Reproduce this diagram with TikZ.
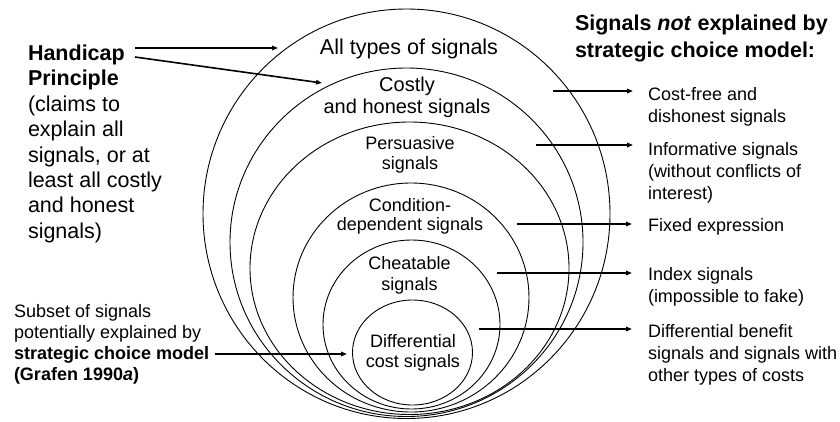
\documentclass[tikz,border=0pt]{standalone}
\usepackage{fontspec}
\setmainfont{Liberation Sans}
\usetikzlibrary{arrows.meta,shapes.geometric}
\begin{document}
\begin{tikzpicture}[x=1pt,y=-1pt,
  ell/.style={draw, ellipse, line width=0.9pt, inner sep=0pt, outer sep=0pt},
  arr/.style={line width=1.6pt, -{Triangle[length=6pt,width=4.5pt]}},
  lbl/.style={inner sep=0pt, outer sep=0pt},
  fbig/.style={font=\fontsize{21.5pt}{25.4pt}\selectfont},
  fsmall/.style={font=\fontsize{18pt}{22pt}\selectfont}]
\useasboundingbox (0,0) rectangle (840,421);

% nested ellipses
\node[ell, minimum width=407pt, minimum height=409.5pt] (e1) at (406.5,213.75) {};
\node[ell, minimum width=353pt, minimum height=348.5pt] (e2) at (406.5,242.25) {};
\node[ell, minimum width=319pt, minimum height=292.5pt] (e3) at (409.5,268.25) {};
\node[ell, minimum width=236pt, minimum height=229pt] (e4) at (411,297.5) {};
\node[ell, minimum width=177pt, minimum height=169pt] (e5) at (411.5,324.5) {};
\node[ell, minimum width=120pt, minimum height=105pt] (e6) at (412.5,352.5) {};

% labels inside ellipses
\node[lbl, anchor=north, align=center, fbig] (l1) at (409,39.3) {All types of signals};
\node[lbl, anchor=north, align=center, font=\fontsize{20pt}{22.3pt}\selectfont] (l2) at (407,76.7) {Costly\\and honest signals};
\node[lbl, anchor=north, align=center, font=\fontsize{18pt}{19.3pt}\selectfont] (l3) at (410,136.7) {Persuasive\\signals};
\node[lbl, anchor=north, align=center, font=\fontsize{18pt}{19pt}\selectfont] (l4) at (410,198.3) {Condition-\\dependent signals};
\node[lbl, anchor=north, align=center, font=\fontsize{18pt}{21.5pt}\selectfont] (l5) at (409.5,256) {Cheatable\\signals};
\node[lbl, anchor=north, align=center, font=\fontsize{18pt}{20.3pt}\selectfont] (l6) at (413,334) {Differential\\cost signals};

% left texts
\node[lbl, anchor=north west, align=left, fbig] (hp) at (28,45)
  {\textbf{Handicap}\\\textbf{Principle}\\(claims to\\explain all\\signals, or at\\least all costly\\and honest\\signals)};
\node[lbl, anchor=north west, align=left, font=\fontsize{18pt}{21pt}\selectfont] (sub) at (14,304)
  {Subset of signals\\potentially explained by\\\textbf{strategic choice model}\\\textbf{(Grafen 1990\textit{a})}};

% right texts
\node[lbl, anchor=north west, align=left, font=\fontsize{21.5pt}{27pt}\selectfont\bfseries] (hd) at (575,15)
  {Signals \textit{not} explained by\\strategic choice model:};
\node[lbl, anchor=north west, align=left, fsmall] (r1) at (648,87) {Cost-free and\\dishonest signals};
\node[lbl, anchor=north west, align=left, fsmall] (r2) at (648,142) {Informative signals\\(without conflicts of\\interest)};
\node[lbl, anchor=north west, align=left, fsmall] (r3) at (648,218.5) {Fixed expression};
\node[lbl, anchor=north west, align=left, fsmall] (r4) at (648,267) {Index signals\\(impossible to fake)};
\node[lbl, anchor=north west, align=left, fsmall] (r5) at (648,324) {Differential benefit\\signals and signals with\\other types of costs};

% arrow end points
\coordinate (h1s) at (135,48);  \coordinate (h1e) at (278,48);
\coordinate (h2s) at (135,57);  \coordinate (h2e) at (322,83);
\coordinate (scs) at (215,354); \coordinate (sce) at (347,354);
\coordinate (a1s) at (553,91);  \coordinate (a1e) at (633,91);
\coordinate (a2s) at (536,145); \coordinate (a2e) at (633,145);
\coordinate (a3s) at (517,224); \coordinate (a3e) at (632,224);
\coordinate (a4s) at (497,273); \coordinate (a4e) at (632,273);
\coordinate (a5s) at (479,329); \coordinate (a5e) at (632,329);

\draw[arr] (h1s) -- (h1e);
\draw[arr] (h2s) -- (h2e);
\draw[arr] (scs) -- (sce);
\draw[arr] (a1s) -- (a1e);
\draw[arr] (a2s) -- (a2e);
\draw[arr] (a3s) -- (a3e);
\draw[arr] (a4s) -- (a4e);
\draw[arr] (a5s) -- (a5e);
\end{tikzpicture}
\end{document}
